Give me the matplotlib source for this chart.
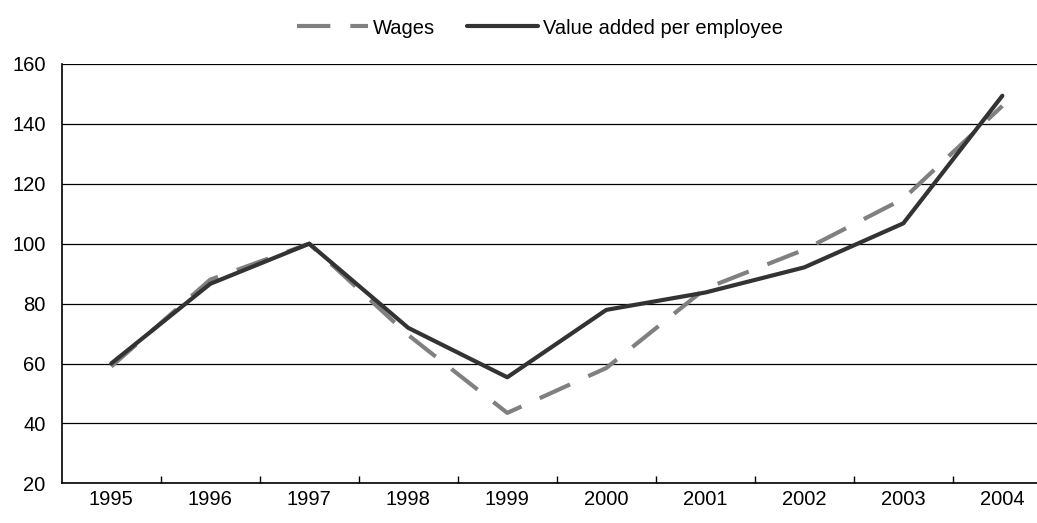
import matplotlib
matplotlib.use("Agg")
import matplotlib.pyplot as plt

plt.rcParams['font.family'] = ['Liberation Sans', 'DejaVu Sans']

years = ['1995', '1996', '1997', '1998', '1999', '2000', '2001', '2002', '2003', '2004']
wages = [59, 88, 100, 69.5, 43.5, 58.5, 85, 98, 115, 146]
value_added = [60, 86.6, 100, 71.9, 55.4, 77.9, 83.7, 92.1, 106.8, 149.4]

fig = plt.figure(figsize=(10.37, 5.23), dpi=100)
ax = fig.add_axes([61.7 / 1037, 1 - 483.3 / 523, 1 - 61.7 / 1037, (483.3 - 64) / 523])

x = range(len(years))
ax.plot(x, wages, color='#808080', lw=3, linestyle=(0, (8, 4.8)), label='Wages')
ax.plot(x, value_added, color='#333333', lw=3, solid_capstyle='round', label='Value added per employee')

ax.set_ylim(20, 160)
ax.set_xlim(-0.5, 9.35)
ax.set_yticks(range(20, 161, 20))
ax.set_xticks(list(x))
ax.set_xticklabels(years)
ax.set_xticks([i + 0.5 for i in range(9)], minor=True)
ax.tick_params(axis='x', which='major', length=0, pad=5, labelsize=14.5)
ax.tick_params(axis='x', which='minor', length=5, direction='in', width=1)
ax.tick_params(axis='y', length=0, pad=11.5, labelsize=14.5)
ax.yaxis.grid(True, color='black', lw=0.9)
ax.set_axisbelow(True)

for s in ['top', 'right']:
    ax.spines[s].set_visible(False)
ax.spines['left'].set_linewidth(1.2)
ax.spines['bottom'].set_linewidth(1.2)

fig.legend(loc='center', bbox_to_anchor=(540 / 1037, 1 - 28 / 523), ncol=2, frameon=False,
           fontsize=14.5, handlelength=3.5, handletextpad=0.25, columnspacing=1.6)

fig.savefig('out.png', dpi=100)
